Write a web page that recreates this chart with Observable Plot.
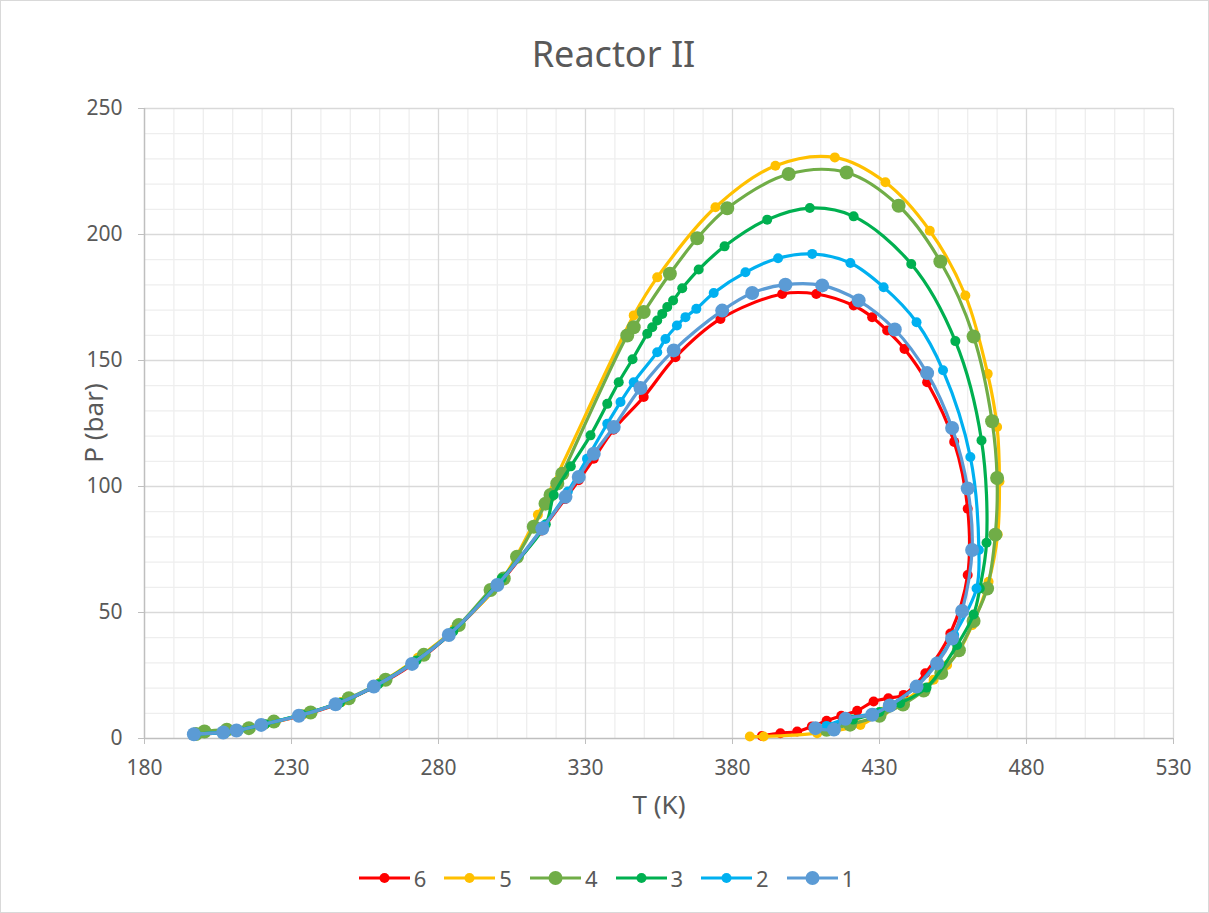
<!DOCTYPE html>
<html>
<head>
<meta charset="utf-8">
<script src="https://cdn.jsdelivr.net/npm/d3@7"></script>
<script src="https://cdn.jsdelivr.net/npm/@observablehq/plot@0.6"></script>
<style>
  html, body { margin: 0; padding: 0; background: #fff; }
  #chart { position: relative; width: 1209px; height: 913px; box-sizing: border-box; border: 1px solid #d9d9d9; font-family: "Noto Sans", "Open Sans", sans-serif; color: #595959; overflow: hidden; }
  #title { height: 80px; line-height: 106px; text-align: center; font-size: 36px; margin-left: 18px; }
  #ylabel { position: absolute; left: 92px; top: 422px; transform: translate(-50%, -50%) rotate(-90deg); font-size: 26px; white-space: nowrap; }
  #legend { display: flex; justify-content: center; align-items: center; gap: 16px; font-size: 22px; margin-top: 12px; margin-left: 2px; }
  .item { display: flex; align-items: center; gap: 3px; }
</style>
</head>
<body>
<div id="chart">
  <div id="title">Reactor II</div>
  <div id="plot"></div>
  <div id="legend"></div>
  <div id="ylabel">P (bar)</div>
</div>
<script>
// Series names (legend order) and colours
const seriesNames = ["6", "5", "4", "3", "2", "1"];
const seriesColors = ["#FF0000", "#FFC000", "#70AD47", "#00B050", "#00B0F0", "#5B9BD5"];
const markerRadius = [5, 5, 7, 5, 5, 7];

// Axis ticks
const xTicks = [180, 230, 280, 330, 380, 430, 480, 530];
const yTicks = [0, 50, 100, 150, 200, 250];

// Series 6
const t6 = [197, 207, 211.5, 220, 232.5, 245, 258, 271, 283.5, 300, 315, 323, 327.7, 332.8, 339.5, 349.8, 360.6, 375.9, 396.9, 408.5, 421.2, 427.5, 432.6, 438.5, 446.2, 455.4, 460.0, 460.0, 454.1, 445.6, 438.2, 433, 428.0, 422.4, 417, 412, 407, 402.0, 396.3, 390];
const p6 = [1.6, 2.3, 3.1, 5.3, 8.8, 13.4, 20.3, 29.3, 40.8, 60.5, 82.5, 95, 102.5, 111, 122.5, 135.5, 151.3, 166.5, 176.4, 176.4, 171.8, 167.2, 161.9, 154.6, 141.4, 117.7, 91.2, 64.9, 41.7, 25.9, 17.3, 16, 14.7, 11.0, 9, 7, 4.8, 2.8, 2.1, 1.0];
// Series 5
const t5 = [197, 207, 212, 221, 234, 247, 260, 273, 285.5, 301, 313.8, 346.4, 354.4, 374.2, 394.6, 414.8, 432.0, 447.1, 459.2, 466.8, 470.0, 470.8, 470.2, 467.1, 461.5, 456.9, 453.0, 448.4, 443.3, 438.2, 431.4, 423.5, 408.8, 390.6, 385.9];
const p5 = [1.7, 2.5, 3.4, 5.6, 9.5, 14.5, 22, 32, 43.5, 62, 88.8, 167.9, 183.0, 210.8, 227.3, 230.6, 220.7, 201.5, 175.8, 144.7, 123.6, 102, 81, 62.2, 45.0, 34.5, 29.2, 23.3, 18.9, 14.7, 10.7, 5.4, 2.1, 0.8, 0.8];
// Series 4
const t4 = [197.5, 200.4, 208, 215.5, 224.0, 236.5, 249.5, 262.0, 275.0, 286.9, 297.7, 302.2, 306.7, 312.4, 316.4, 318.1, 320.4, 322.1, 344.2, 346.4, 349.8, 358.7, 368.0, 378.2, 399.1, 418.8, 436.5, 450.7, 462.0, 468.3, 470.0, 469.4, 466.6, 462.0, 457, 451, 445, 438, 430, 420, 412];
const p4 = [1.8, 2.8, 3.5, 4.1, 6.7, 10.3, 16.0, 23.3, 33.2, 45.0, 58.9, 63.5, 72.1, 84.0, 93.2, 96.6, 101.2, 105.1, 159.9, 163.2, 169.2, 184.4, 198.5, 210.4, 224.0, 224.6, 211.4, 189.3, 159.5, 125.9, 103.4, 80.9, 59.5, 46.6, 35, 26, 19, 13.5, 9, 5.5, 3.5];
// Series 3
const t3 = [197.5, 207.5, 212, 221, 233.5, 246.5, 259.5, 272.5, 285, 301.5, 316.5, 319.2, 325, 331.7, 337.4, 341.3, 346, 351.0, 352.7, 354.4, 356.1, 357.8, 359.8, 362.9, 368.5, 377.3, 391.8, 406.3, 421.2, 440.8, 455.8, 464.7, 466.4, 464.1, 462.0, 456.4, 446.0, 437, 430, 421, 413];
const p3 = [1.8, 2.5, 3.4, 5.7, 9.5, 14.2, 21.5, 31, 42.5, 63.5, 85, 96.6, 108, 120.3, 132.8, 141.4, 150.5, 160.6, 163.2, 165.9, 168.5, 171.2, 173.8, 178.7, 186.1, 195.3, 205.9, 210.5, 207.2, 188.3, 157.7, 118.3, 77.7, 59.5, 49.2, 37.1, 20.2, 14, 10.5, 7.5, 4.5];
// Series 2
const t2 = [197, 207, 212, 220, 233, 245.5, 258.5, 271.5, 284, 300.5, 316, 324, 330.5, 337.4, 341.9, 346.4, 354.4, 357.2, 361.1, 364.0, 367.7, 373.6, 384.4, 395.5, 407.1, 420.1, 431.4, 442.6, 451.6, 460.9, 463.8, 463.0, 455.4, 449.6, 442.8, 434, 428, 419, 412];
const p2 = [1.7, 2.4, 3.3, 5.5, 9.2, 13.8, 20.8, 30, 41.5, 61.5, 84.5, 98, 111, 124.9, 133.5, 141.4, 153.3, 158.5, 163.9, 167.2, 170.5, 176.8, 185.0, 190.6, 192.3, 188.7, 179.1, 165.2, 146.1, 111.7, 74.8, 59.5, 41.1, 30.5, 21, 13.5, 10, 8, 5];
// Series 1
const t1 = [196.8, 206.8, 211.3, 219.7, 232.5, 245.0, 258.0, 271.0, 283.5, 300.0, 315.3, 323.2, 327.7, 332.8, 339.6, 348.7, 360.0, 376.5, 386.7, 398.0, 410.5, 422.9, 435.2, 446.2, 454.7, 460.0, 461.5, 458.1, 454.7, 449.6, 442.6, 433.5, 427.5, 418.4, 414.5, 408.2];
const p1 = [1.7, 2.4, 3.2, 5.4, 9.0, 13.6, 20.6, 29.6, 41.1, 60.9, 83.3, 95.9, 103.8, 113.0, 123.6, 139.1, 154.0, 169.8, 176.8, 180.1, 179.8, 173.8, 162.3, 145.0, 123.2, 99.2, 74.8, 50.6, 39.7, 29.8, 20.6, 13.1, 9.4, 7.8, 3.6, 4.1];

const tArrays = [t6, t5, t4, t3, t2, t1];
const pArrays = [p6, p5, p4, p3, p2, p1];

const seriesData = seriesNames.map((name, i) =>
  tArrays[i].map((T, j) => ({series: name, T, P: pArrays[i][j]}))
);

const xMinor = d3.range(180, 531, 10).filter(v => !xTicks.includes(v));
const yMinor = d3.range(0, 251, 10).filter(v => !yTicks.includes(v));

const seriesMarks = [];
seriesData.forEach((data, i) => {
  seriesMarks.push(Plot.line(data, {x: "T", y: "P", stroke: seriesColors[i], strokeWidth: 3.2, curve: "catmull-rom"}));
  seriesMarks.push(Plot.dot(data, {x: "T", y: "P", fill: seriesColors[i], r: markerRadius[i], stroke: "none"}));
});

const font = '"Noto Sans", "Open Sans", sans-serif';
const chart = Plot.plot({
  width: 1207,
  height: 770,
  marginTop: 27,
  marginLeft: 143,
  marginRight: 35,
  marginBottom: 113,
  style: {fontFamily: font, color: "#595959", background: "white", overflow: "visible"},
  x: {domain: [180, 530], label: null},
  y: {domain: [0, 250], label: null},
  marks: [
    Plot.ruleX(xMinor, {stroke: "#eeeeee", strokeWidth: 1.3}),
    Plot.ruleY(yMinor, {stroke: "#eeeeee", strokeWidth: 1.3}),
    Plot.ruleX(xTicks.slice(1), {stroke: "#d9d9d9", strokeWidth: 1.3}),
    Plot.ruleY(yTicks.slice(1), {stroke: "#d9d9d9", strokeWidth: 1.3}),
    Plot.ruleX([180], {stroke: "#bfbfbf", strokeWidth: 1.5}),
    Plot.ruleY([0], {stroke: "#bfbfbf", strokeWidth: 1.5}),
    Plot.axisX({ticks: xTicks, tickSize: 6, tickPadding: 16, fontSize: 21, stroke: "#bfbfbf", fill: "#595959", tickFormat: d => String(d), label: null}),
    Plot.axisY({ticks: yTicks, tickSize: 6, tickPadding: 16, fontSize: 21, stroke: "#bfbfbf", fill: "#595959", tickFormat: d => String(d), label: null}),
    Plot.text(["T (K)"], {frameAnchor: "bottom", dy: 75, fontSize: 26, fill: "#595959"}),
    ...seriesMarks
  ]
});
document.getElementById("plot").appendChild(chart);

// Legend
const legend = document.getElementById("legend");
seriesNames.forEach((name, i) => {
  const item = document.createElement("div");
  item.className = "item";
  item.innerHTML = `<svg width="54" height="20"><line x1="2" x2="53" y1="10" y2="10" stroke="${seriesColors[i]}" stroke-width="3"/><circle cx="27.5" cy="10" r="${markerRadius[i]}" fill="${seriesColors[i]}"/></svg><span>${name}</span>`;
  legend.appendChild(item);
});
</script>
</body>
</html>
